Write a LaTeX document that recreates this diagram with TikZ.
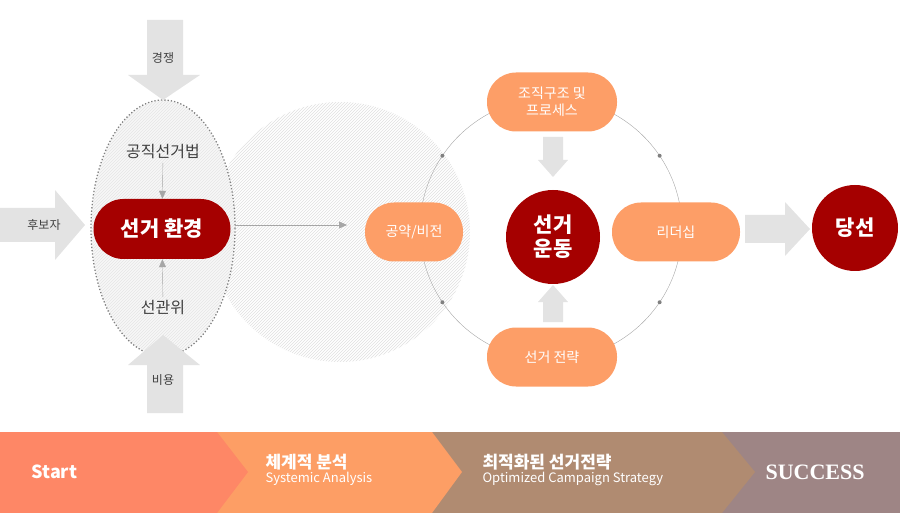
\documentclass[tikz,border=0pt]{standalone}
\usepackage{fontspec}
\setmainfont{Noto Sans CJK KR}
\newfontfamily\succfont{Liberation Serif}
\usetikzlibrary{patterns,arrows.meta,positioning}
\definecolor{darkred}{HTML}{A50000}
\definecolor{peach}{HTML}{FD9E67}
\definecolor{stepA}{HTML}{FE8766}
\definecolor{stepB}{HTML}{FD9E65}
\definecolor{stepC}{HTML}{B08B71}
\definecolor{stepD}{HTML}{9E8585}
\definecolor{arrowgray}{HTML}{E3E3E3}
\tikzset{
	redbox/.style={fill=darkred, text=white, rounded corners=30pt, minimum width=137pt, minimum height=60pt, font=\fontsize{21}{21}\selectfont\bfseries},
	orbox/.style={fill=peach, text=white, rounded corners=29pt, minimum height=59pt, font=\fontsize{14}{17}\selectfont, align=center},
	redcirc/.style={circle, fill=darkred, text=white, font=\fontsize{21}{24}\selectfont\bfseries, align=center},
	lbl/.style={text=black!75, font=\fontsize{12}{12}\selectfont},
	thin arrow/.style={draw=gray!70, -{Triangle[length=8pt,width=7pt]}},
	steptext/.style={text=white, align=left, anchor=west},
}
\begin{document}
\begin{tikzpicture}[x=1pt, y=-1pt]
		\useasboundingbox (0,0) rectangle (900,513);
		
		% hatched circle and ellipse
		\fill[pattern=north east lines, pattern color=gray!25] (340,232) circle (130);
		\filldraw[fill=gray!6, draw=gray, dotted, line width=1.3pt] (163,228) ellipse (72 and 128);
		\fill[pattern=north east lines, pattern color=gray!20] (163,228) ellipse (71 and 127);
		
		% block arrows
		\fill[arrowgray] (147,20) -- (183,20) -- (183,75) -- (200,75) -- (163,100) -- (128,75) -- (147,75) -- cycle;
		\fill[arrowgray] (147,413) -- (183,413) -- (183,365) -- (200,365) -- (163,335) -- (128,365) -- (147,365) -- cycle;
		\fill[arrowgray] (0,208) -- (55,208) -- (55,190) -- (85,225) -- (55,260) -- (55,242) -- (0,242) -- cycle;
		\fill[arrowgray] (745,215) -- (785,215) -- (785,202) -- (810,229) -- (785,256) -- (785,243) -- (745,243) -- cycle;
		\fill[arrowgray] (543,137) -- (563,137) -- (563,160) -- (568,160) -- (553,177) -- (538,160) -- (543,160) -- cycle;
		\fill[arrowgray] (543,322) -- (563,322) -- (563,302) -- (568,302) -- (553,285) -- (538,302) -- (543,302) -- cycle;
		
		\node[lbl](COMP) at (163,58){경쟁};
		\node[lbl](COST) at (163,380){비용};
		\node[lbl](CAND) at (44,225){후보자};
		
		% election environment
		\node[redbox](ENV) at (162,229){선거 환경};
		\node[lbl, font=\fontsize{16}{16}\selectfont](LAW) at (163,152){공직선거법};
		\node[lbl, font=\fontsize{16}{16}\selectfont](NEC) at (163,308){선관위};
		\draw[thin arrow] (LAW) -- (ENV);
		\draw[thin arrow] (NEC) -- (ENV);
		
		% campaign circle
		\draw[gray!70] (551,229) circle (131);
		\foreach \a in {34,146,214,326}
			\fill[gray] (551,229) ++(\a:131) circle (2);
		\node[orbox, minimum width=98pt](VIS) at (414,232){공약/비전};
		\node[orbox, minimum width=128pt](LEAD) at (676,232){리더십};
		\node[orbox, minimum width=130pt](ORG) at (552,102){조직구조 및\\프로세스};
		\node[orbox, minimum width=130pt](STR) at (552,357){선거 전략};
		\node[redcirc, minimum size=94pt](CAMP) at (553,237){선거\\운동};
		\coordinate(ENVR) at (235,225);
		\coordinate(ENVEND) at (347,225);
		\draw[thin arrow] (ENVR) -- (ENVEND);
		
		\node[redcirc, minimum size=86pt](WIN) at (855,228){당선};
		
		% banner
		\fill[stepD] (720,432) rectangle (900,513);
		\fill[stepC] (430,432) -- (722,432) -- (755,472) -- (722,513) -- (430,513) -- cycle;
		\fill[stepB] (215,432) -- (432,432) -- (462,472) -- (432,513) -- (215,513) -- cycle;
		\fill[stepA] (0,432) -- (217,432) -- (248,472) -- (217,513) -- (0,513) -- cycle;
		\node[steptext, font=\fontsize{18}{18}\selectfont\bfseries](S1) at (28,472){Start};
		\node[steptext, font=\fontsize{17}{17}\selectfont\bfseries](S2) at (262,462){체계적 분석};
		\node[steptext, font=\fontsize{13}{13}\selectfont, below=-5pt of S2.south west, anchor=north west](S2b){Systemic Analysis};
		\node[steptext, font=\fontsize{17}{17}\selectfont\bfseries](S3) at (479,462){최적화된 선거전략};
		\node[steptext, font=\fontsize{13}{13}\selectfont, below=-5pt of S3.south west, anchor=north west](S3b){Optimized Campaign Strategy};
		\node[steptext, font=\succfont\fontsize{22}{22}\selectfont\bfseries](S4) at (762,472){SUCCESS};
\end{tikzpicture}
\end{document}
